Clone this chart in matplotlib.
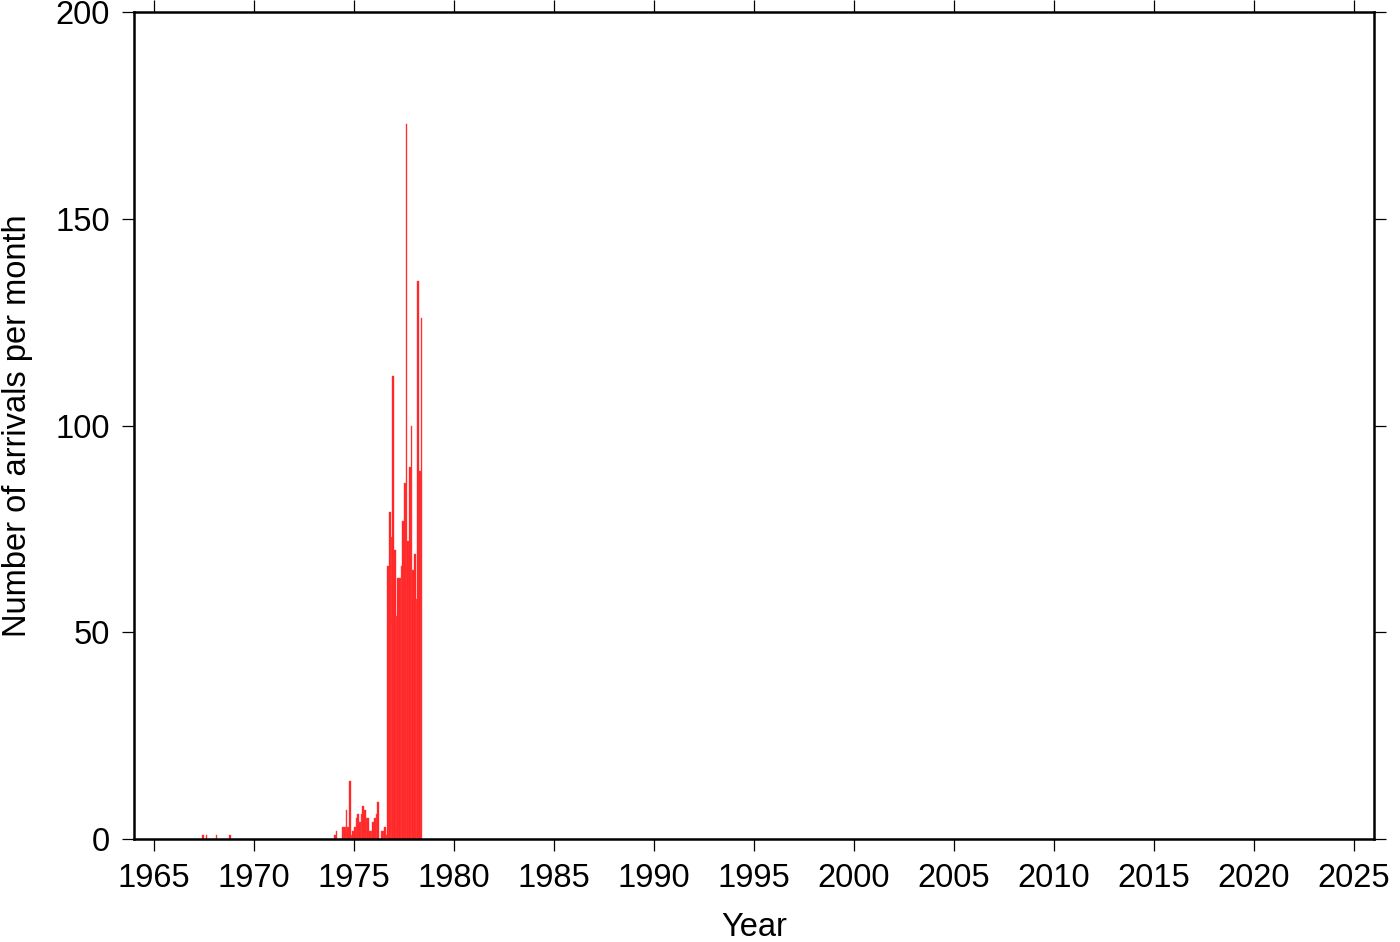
import matplotlib.pyplot as plt
import numpy as np

plt.rcParams['font.family'] = ['Liberation Sans', 'DejaVu Sans']

# monthly arrival counts (year, month, count); months not listed are zero
months_1967 = [(1967, 6), (1967, 8), (1968, 2), (1968, 10)]
counts_1967 = [1, 1, 1, 1]

# Jan 1974 .. May 1978, one value per month
start_year = 1974
counts_1974 = [1, 2, 0, 0, 0, 3, 3, 7, 3, 14, 1, 2,
               3, 5, 6, 4, 6, 8, 7, 5, 5, 2, 2, 4,
               5, 6, 9, 0, 2, 2, 3, 1, 66, 79, 73, 112,
               70, 54, 63, 63, 66, 77, 86, 173, 72, 90, 100, 65,
               69, 58, 135, 89, 126]

x_ticks = np.arange(1965, 2026, 5)
y_ticks = [0, 50, 100, 150, 200]

x_early = [y + (m - 1) / 12 for y, m in months_1967]
x_late = [start_year + i / 12 for i in range(len(counts_1974))]
xs = x_early + x_late
vals = counts_1967 + counts_1974

fig = plt.figure(figsize=(14, 9.42), dpi=100)
ax = fig.add_axes([134 / 1400, 1 - 839 / 942, 1240 / 1400, 827 / 942])

ax.bar(xs, vals, width=1 / 12, align='edge', color='#ff1f1f',
       edgecolor='#ff4a4a', linewidth=0.3)

ax.set_xlim(1964, 2026)
ax.set_ylim(0, 200)
ax.set_xticks(x_ticks)
ax.set_yticks(y_ticks)

for s in ax.spines.values():
    s.set_linewidth(1.8)

ax.tick_params(axis='both', direction='out', length=8.5, width=0.9,
               labelsize=23.5, top=True, right=True)
ax.tick_params(axis='x', pad=9)
ax.tick_params(axis='y', pad=9)

ax.set_xlabel('Year', fontsize=23.5, labelpad=13)
ax.set_ylabel('Number of arrivals per month', fontsize=23.5, labelpad=16)

fig.savefig('out.png', dpi=100)
